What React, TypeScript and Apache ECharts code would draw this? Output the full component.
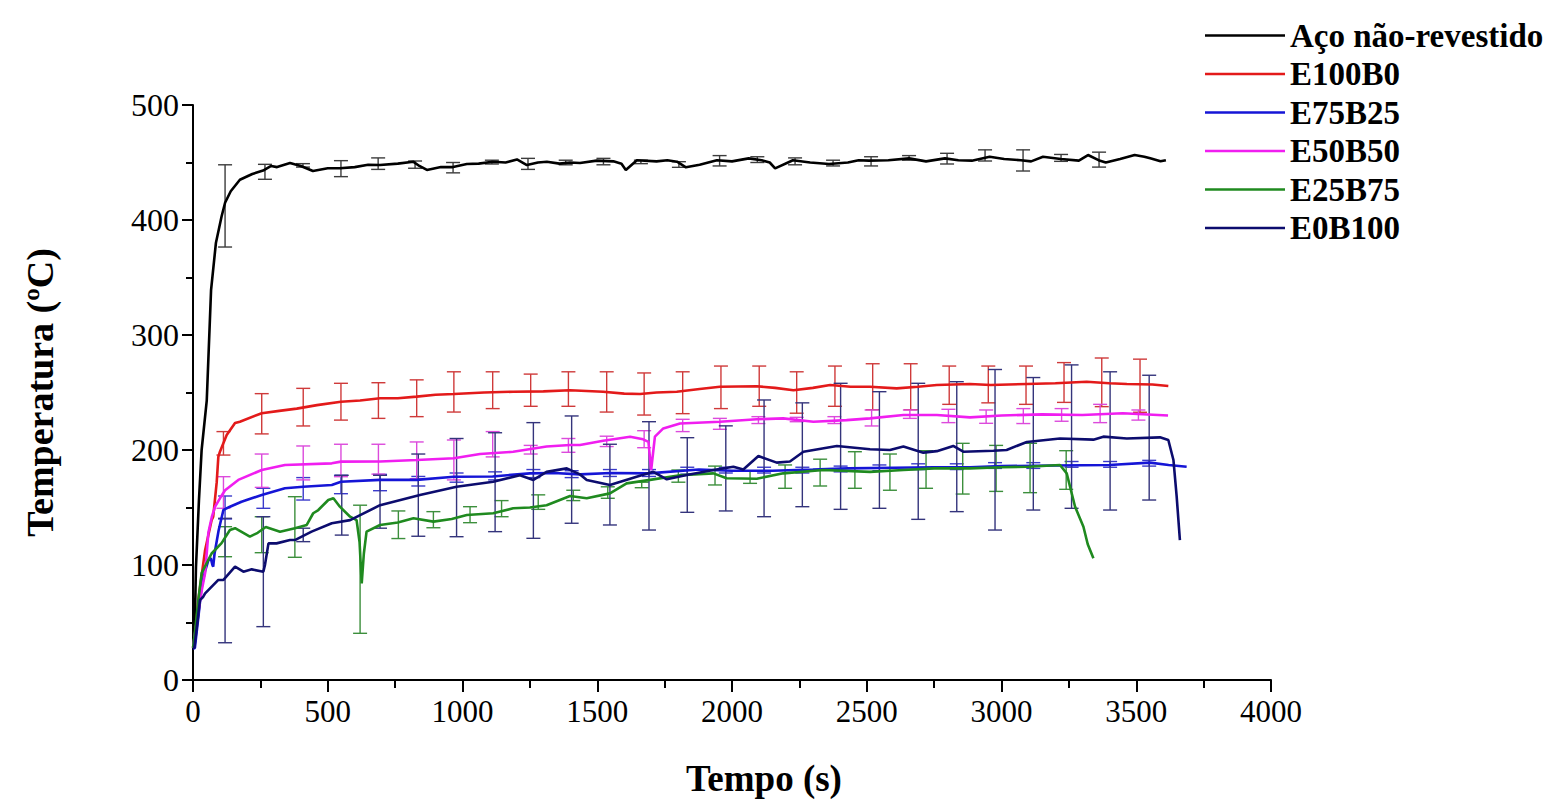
import React, { useEffect, useRef } from "react";
import * as echarts from "echarts";

// ---------- data ----------
const seriesNames = ["Aço não-revestido", "E100B0", "E75B25", "E50B50", "E25B75", "E0B100"];

const xTicks = [0, 500, 1000, 1500, 2000, 2500, 3000, 3500, 4000];
const yTicks = [0, 100, 200, 300, 400, 500];

// [time (s), temperature (°C)]
const acoData = [
  [0, 30], [5, 29], [11, 98], [22, 156], [32, 200], [51, 243], [67, 339], [85, 380], [106, 403], [119, 415],
  [140, 425], [174, 435], [220, 440], [260, 443], [290, 447], [312, 446], [360, 449.6], [400, 447], [445, 442.6],
  [500, 445], [545, 445], [600, 446], [650, 448], [694, 447.8], [760, 449], [817, 450.7], [840, 447], [868, 443.5],
  [920, 446], [965, 446], [1016, 448.7], [1060, 449], [1113, 450.7], [1160, 450], [1202, 452.7], [1239, 447.8],
  [1280, 450], [1313, 450.7], [1360, 449], [1399, 450], [1436, 449.6], [1498, 451.6], [1560, 451], [1590, 449],
  [1606, 443.5], [1647, 452], [1720, 451], [1760, 452], [1796, 450.7], [1829, 445.8], [1880, 448], [1944, 452],
  [2000, 451], [2062, 453.6], [2110, 452], [2140, 450], [2160, 444.9], [2226, 452], [2290, 450], [2360, 448.7],
  [2430, 450], [2470, 452], [2508, 451.6], [2580, 452], [2657, 453.6], [2720, 451], [2790, 453.6], [2840, 452],
  [2890, 451.6], [2956, 455], [3010, 453], [3072, 452], [3110, 451], [3154, 455], [3220, 453], [3287, 451.6],
  [3321, 456.5], [3360, 452], [3387, 450], [3440, 453], [3494, 456.5], [3530, 455], [3552, 453.6], [3590, 451],
  [3610, 452],
];
const e100b0Data = [
  [0, 28], [5, 29], [20, 70], [45, 113], [69, 139], [75, 142], [88, 172], [94, 194], [100, 198.5], [113, 206],
  [125, 213], [156, 223.5], [174, 224.6], [255, 232], [320, 234], [385, 236], [460, 239], [549, 242], [620, 243],
  [694, 245], [760, 245], [830, 246.4], [900, 248], [968, 248.7], [1080, 250], [1188, 250.7], [1300, 251],
  [1399, 252], [1522, 250.7], [1600, 249], [1659, 248.7], [1720, 250], [1795, 250.7], [1880, 253], [1955, 255],
  [2092, 255.4], [2160, 254], [2228, 252], [2300, 254], [2364, 256.5], [2440, 255], [2512, 255], [2611, 253.6],
  [2690, 255], [2760, 256.5], [2883, 257.4], [2960, 256.5], [3094, 257.4], [3200, 258], [3316, 259.4],
  [3400, 258], [3465, 257.4], [3560, 257], [3619, 255.6],
];
const e75b25Data = [
  [0, 27], [7, 28], [20, 55], [32, 81], [45, 95], [57, 104], [66, 106], [72, 100], [75, 98.5], [80, 110],
  [95, 130], [113, 148], [137, 150.7], [180, 155], [218, 158], [255, 160.9], [341, 166.7], [409, 168],
  [515, 169.6], [549, 172.4], [694, 174], [830, 174], [968, 176.8], [1112, 177], [1250, 179.7], [1340, 180],
  [1436, 178.8], [1550, 180], [1690, 179.7], [1877, 183], [2000, 182], [2150, 182], [2300, 183], [2432, 184],
  [2600, 184.5], [2750, 185], [2883, 185], [3000, 186], [3200, 186.5], [3400, 187], [3551, 189], [3620, 187],
  [3687, 185.5],
];
const e50b50Data = [
  [0, 28], [10, 45], [30, 75], [45, 93], [57, 128], [70, 142], [82, 150.7], [100, 158], [119, 165], [168, 174],
  [255, 182.6], [341, 187], [515, 188.4], [549, 189.9], [694, 190], [830, 191.3], [968, 192.8], [1065, 196.5],
  [1188, 198.5], [1312, 203], [1399, 204.3], [1436, 204.3], [1522, 208], [1622, 211.6], [1670, 209.3],
  [1690, 207], [1700, 182.6], [1714, 211.6], [1745, 218.8], [1807, 223], [1955, 224.6], [2092, 226.7],
  [2190, 227.5], [2302, 224.6], [2425, 226], [2512, 227.5], [2636, 230.4], [2760, 230.4], [2883, 228.4],
  [3000, 230], [3150, 231], [3300, 230.5], [3450, 232], [3618, 230],
];
const e25b75Data = [
  [0, 28], [7, 41], [20, 70], [32, 93], [69, 110], [106, 119], [137, 130.4], [156, 132], [211, 124.6],
  [240, 128], [270, 133], [323, 129], [378, 132], [422, 134.8], [446, 145], [465, 147.8], [502, 156.5],
  [521, 158], [545, 150.7], [583, 142], [607, 139], [618, 120], [626, 84], [634, 110], [644, 129], [694, 134.8],
  [760, 137], [818, 140.6], [892, 137.7], [960, 140], [1016, 143.5], [1114, 145], [1188, 149.3], [1250, 150],
  [1312, 152], [1399, 160], [1461, 158], [1547, 162.3], [1609, 171], [1696, 174], [1807, 178], [1931, 179.7],
  [1980, 175.4], [2092, 175], [2190, 179.7], [2339, 182.6], [2512, 181], [2636, 182.6], [2750, 184],
  [2883, 184], [3000, 185], [3100, 185.5], [3217, 187], [3242, 179.7], [3273, 150.7], [3304, 133.3],
  [3320, 118], [3341, 105.8],
];
const e0b100Data = [
  [0, 28], [5, 28], [26, 69.6], [38, 72.4], [45, 75.4], [94, 87], [113, 87], [156, 98.5], [187, 94.2],
  [218, 96.2], [261, 94.2], [267, 100], [280, 118.8], [310, 118.8], [360, 121.7], [378, 121.7], [440, 129],
  [515, 136.3], [583, 139], [694, 152], [842, 160.9], [978, 168], [1114, 172.4], [1213, 178], [1263, 174],
  [1312, 181], [1387, 184], [1436, 178.8], [1461, 174], [1547, 169.6], [1646, 176.8], [1708, 181],
  [1758, 174.5], [1832, 178.3], [1931, 182.6], [2005, 185.5], [2042, 183], [2098, 194.8], [2166, 189],
  [2215, 190], [2265, 198.5], [2389, 203.5], [2512, 200.6], [2586, 200], [2636, 203], [2710, 197.7],
  [2760, 199], [2821, 203.5], [2858, 198.5], [2970, 199.4], [3019, 200], [3094, 207], [3217, 210], [3341, 209],
  [3378, 211.6], [3465, 210], [3588, 211], [3619, 208.7], [3638, 191.3], [3650, 159.4], [3662, 121.7],
];

// error bars: [time, low, high]
const acoErr = [
  [119, 376.5, 448], [267, 435.4, 448.4], [408, 446, 449], [549, 437.7, 451.6], [687, 444, 454], [824, 445, 451.3],
  [965, 441, 450], [1109, 448.7, 452], [1243, 444, 453.6], [1383, 448, 452], [1523, 448, 453.6], [1662, 449, 452],
  [1803, 445.8, 450.7], [1954, 447, 456], [2094, 450, 455], [2234, 448, 454], [2375, 447, 452], [2516, 447, 455],
  [2657, 452, 456], [2798, 448.7, 458], [2939, 451.3, 461], [3080, 442.6, 461], [3221, 451, 457], [3362, 446, 459],
];
const e100b0Err = [
  [113, 195.6, 216], [255, 214, 249], [409, 220.9, 253.6], [549, 226, 258], [688, 227.5, 258.5], [830, 229, 261],
  [968, 233, 268], [1112, 236, 268], [1253, 238, 266], [1393, 238, 268], [1535, 233, 268], [1674, 230.4, 267],
  [1817, 231.6, 268], [1959, 236, 273], [2101, 238, 273], [2240, 232, 268], [2382, 238, 273], [2522, 235, 275],
  [2663, 235, 275], [2806, 239.7, 273], [2951, 241, 273], [3091, 239.7, 273], [3232, 241.4, 276],
  [3372, 237.7, 280], [3514, 232.8, 279],
];
const e75b25Err = [
  [119, 140, 160], [261, 149.3, 166.7], [409, 156.5, 176], [549, 162, 178], [694, 164.6, 178.8], [836, 168.7, 177],
  [978, 172, 180], [1121, 174, 181], [1263, 176, 183], [1405, 176, 182], [1547, 177, 183], [1692, 177, 183],
  [1834, 179, 185], [1977, 180, 185], [2119, 180, 185], [2261, 180, 185], [2403, 181, 186], [2547, 182, 187],
  [2691, 183, 188], [2834, 183, 188], [2976, 184, 189], [3118, 184, 189], [3260, 185, 190], [3403, 185, 190],
  [3548, 186, 191],
];
const e50b50Err = [
  [113, 149.3, 176.8], [255, 167.5, 196.5], [409, 174, 203.5], [549, 176.8, 205], [688, 179, 205], [830, 175, 207],
  [968, 174, 208.7], [1112, 194, 216], [1253, 196.5, 204], [1393, 198, 210], [1535, 203, 212], [1674, 202, 216.8],
  [1817, 216, 226.7], [1955, 218, 227.5], [2098, 223, 229], [2240, 224.6, 228.4], [2380, 223, 229],
  [2518, 220.9, 234.8], [2660, 227.5, 234.8], [2803, 223.8, 235.4], [2943, 223.2, 234.8], [3081, 223, 236],
  [3223, 225, 236], [3366, 223.8, 239.7], [3508, 226, 234.8],
];
const e25b75Err = [
  [119, 107.2, 133.3], [255, 110.7, 142], [378, 106.7, 159.4], [620, 40.6, 152], [762, 123, 147],
  [892, 132.4, 146.4], [1028, 136.8, 150.7], [1145, 142, 156], [1281, 148.4, 161], [1411, 156, 165],
  [1539, 158, 168], [1665, 167.2, 172], [1801, 172, 182.6], [1937, 169.6, 186], [2067, 171, 182],
  [2197, 166.7, 187], [2327, 168.7, 192], [2456, 166.7, 198.5], [2586, 165, 196.5], [2720, 166.7, 199.4],
  [2856, 161.7, 205.8], [2980, 164, 204], [3106, 162.9, 205.8], [3240, 165.8, 199.4],
];
const e0b100Err = [
  [119, 32.4, 140.6], [261, 46.4, 142], [409, 120.3, 132], [552, 126, 178], [694, 132, 178], [836, 125, 196.5],
  [978, 124.6, 210], [1121, 129, 215], [1263, 123.2, 223.8], [1405, 136.3, 229.6], [1547, 134.8, 205],
  [1692, 130.4, 224.6], [1834, 145.8, 210.7], [1977, 147, 221], [2119, 142, 243.5], [2261, 150.7, 241],
  [2403, 148.4, 258], [2547, 149.3, 250.7], [2691, 139.7, 258], [2834, 146.4, 259.4], [2976, 130.4, 270],
  [3118, 147.8, 263], [3260, 149.3, 274], [3403, 147.8, 268], [3548, 156.5, 265],
];

const lineData = [acoData, e100b0Data, e75b25Data, e50b50Data, e25b75Data, e0b100Data];
const errData = [acoErr, e100b0Err, e75b25Err, e50b50Err, e25b75Err, e0b100Err];
const lineColors = ["#000000", "#e31a1a", "#1515d6", "#f01ef0", "#1f8a1f", "#0c0c6e"];
const errColors = ["#3c3c3c", "#cf3a3a", "#3a3acb", "#dc4adc", "#3c8f3c", "#34347c"];

const FONT = "'Liberation Serif', 'Times New Roman', serif";

export default function App() {
  const ref = useRef<HTMLDivElement>(null);

  useEffect(() => {
    if (!ref.current) return;
    const chart = echarts.init(ref.current, undefined, { renderer: "svg" });

    const errorSeries = errData.map((d, i) => ({
      type: "custom",
      name: "err" + i,
      data: d,
      encode: { x: 0, y: [1, 2] },
      z: 2,
      silent: true,
      renderItem: (params: any, api: any) => {
        const x = api.value(0);
        const lo = api.coord([x, api.value(1)]);
        const hi = api.coord([x, api.value(2)]);
        const w = 7;
        const style = { stroke: errColors[i], lineWidth: 1.4, fill: null };
        return {
          type: "group",
          children: [
            { type: "line", shape: { x1: lo[0], y1: lo[1], x2: hi[0], y2: hi[1] }, style },
            { type: "line", shape: { x1: lo[0] - w, y1: lo[1], x2: lo[0] + w, y2: lo[1] }, style },
            { type: "line", shape: { x1: hi[0] - w, y1: hi[1], x2: hi[0] + w, y2: hi[1] }, style },
          ],
        };
      },
    }));

    const lineSeries = lineData.map((d, i) => ({
      type: "line",
      name: seriesNames[i],
      data: d,
      showSymbol: false,
      symbol: "none",
      smooth: false,
      z: 3,
      lineStyle: { color: lineColors[i], width: 2.6 },
      itemStyle: { color: lineColors[i] },
    }));

    chart.setOption({
      animation: false,
      backgroundColor: "#ffffff",
      grid: { left: 193, top: 105, width: 1078, height: 575, containLabel: false, outerBoundsMode: "none" },
      legend: {
        data: seriesNames,
        orient: "vertical",
        left: 1200,
        top: 14,
        icon: "rect",
        itemWidth: 80,
        itemHeight: 2.5,
        itemGap: 5.5,
        textStyle: {
          fontFamily: FONT,
          fontSize: 33,
          fontWeight: "bold",
          color: "#000",
          lineHeight: 32,
        },
      },
      xAxis: {
        type: "value",
        min: xTicks[0],
        max: xTicks[xTicks.length - 1],
        interval: 500,
        name: "Tempo (s)",
        nameLocation: "middle",
        nameGap: 80,
        nameTextStyle: {
          fontFamily: FONT,
          fontSize: 37,
          fontWeight: "bold",
          color: "#000",
          padding: [0, 0, 0, 64],
        },
        axisLine: { show: true, onZero: false, lineStyle: { color: "#000", width: 2 } },
        axisTick: { show: true, inside: false, length: 12, lineStyle: { color: "#000", width: 2 } },
        minorTick: { show: true, splitNumber: 2, length: 8, lineStyle: { color: "#000", width: 2 } },
        axisLabel: {
          fontFamily: FONT,
          fontSize: 31,
          color: "#000",
          margin: 16,
          formatter: (v: number) => String(v),
        },
        splitLine: { show: false },
      },
      yAxis: {
        type: "value",
        min: yTicks[0],
        max: yTicks[yTicks.length - 1],
        interval: 100,
        name: "Temperatura (ºC)",
        nameLocation: "middle",
        nameGap: 134,
        nameTextStyle: { fontFamily: FONT, fontSize: 38, fontWeight: "bold", color: "#000" },
        axisLine: { show: true, onZero: false, lineStyle: { color: "#000", width: 2 } },
        axisTick: { show: true, inside: false, length: 11, lineStyle: { color: "#000", width: 2 } },
        minorTick: { show: true, splitNumber: 2, length: 7, lineStyle: { color: "#000", width: 2 } },
        axisLabel: {
          fontFamily: FONT,
          fontSize: 32,
          color: "#000",
          margin: 14,
          formatter: (v: number) => String(v),
        },
        splitLine: { show: false },
      },
      series: [...errorSeries, ...lineSeries],
    });

    return () => chart.dispose();
  }, []);

  return (
    <div
      ref={ref}
      style={{ position: "fixed", left: 0, top: 0, width: 1554, height: 800, background: "#fff" }}
    />
  );
}
